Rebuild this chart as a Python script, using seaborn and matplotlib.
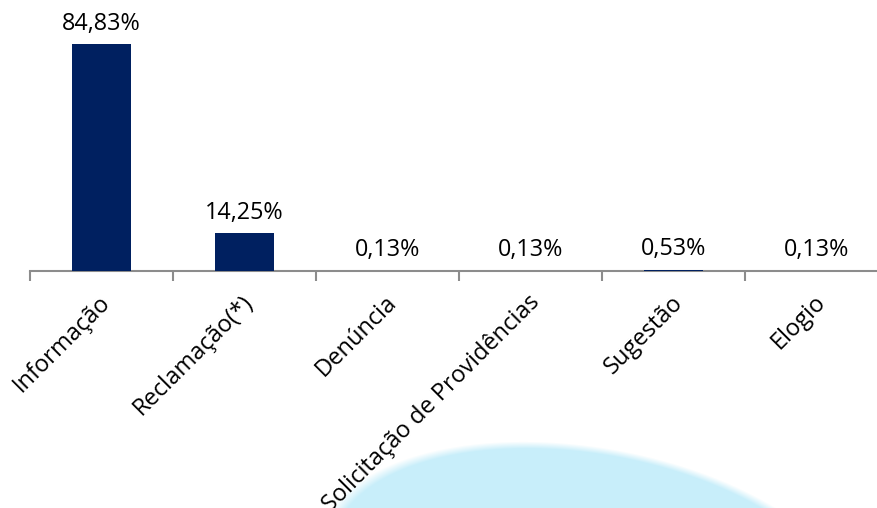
import matplotlib
matplotlib.use("Agg")
import matplotlib.pyplot as plt
import matplotlib.transforms as mtransforms
import numpy as np
import pandas as pd
import seaborn as sns

# Manifestações por tipo (%)
categorias = ["Informação", "Reclamação(*)", "Denúncia",
              "Solicitação de Providências", "Sugestão", "Elogio"]
percentuais = [84.83, 14.25, 0.13, 0.13, 0.53, 0.13]

sns.set_theme(style="white")
plt.rcParams["font.family"] = ["Open Sans", "DejaVu Sans"]

W, H = 878, 508
fig = plt.figure(figsize=(W / 100, H / 100), dpi=100)
fig.patch.set_facecolor("white")

# soft light-blue glow in the lower part of the page
bg = fig.add_axes([0, 0, 1, 1], zorder=0)
bg.axis("off")
yy, xx = np.mgrid[0:H, 0:W].astype(float)
cx, cy, a, b, th = 590.0, 585.0, 275.0, 138.0, np.deg2rad(10)
u = (xx - cx) * np.cos(th) + (yy - cy) * np.sin(th)
v = -(xx - cx) * np.sin(th) + (yy - cy) * np.cos(th)
r = np.sqrt((u / a) ** 2 + (v / b) ** 2)
alpha = np.clip((1 - r) / 0.05, 0, 1)
img = np.ones((H, W, 4))
img[..., 0] = 0xC8 / 255
img[..., 1] = 0xEE / 255
img[..., 2] = 0xFA / 255
img[..., 3] = alpha
bg.imshow(img, extent=[0, W, H, 0], aspect="auto", interpolation="bilinear")
bg.set_xlim(0, W)
bg.set_ylim(H, 0)

ax = fig.add_axes([30 / W, 237 / H, 858 / W, 267.6 / H], zorder=1)
ax.patch.set_alpha(0)

df = pd.DataFrame({"categoria": categorias, "percentual": percentuais})
sns.barplot(data=df, x="categoria", y="percentual", color="#002060",
            saturation=1, width=0.41, ax=ax, zorder=3, linewidth=0)

for i, val in enumerate(percentuais):
    rotulo = f"{val:.2f}".replace(".", ",") + "%"
    ax.annotate(rotulo, (i, val), xytext=(0, 6), textcoords="offset points",
                ha="center", va="bottom", fontsize=16.8, color="black")

ax.set_xlim(-0.5, len(categorias) - 0.5)
ax.set_ylim(0, 100)
ax.set_xlabel("")
ax.set_ylabel("")
ax.set_yticks([])
for s in ["top", "right", "left"]:
    ax.spines[s].set_visible(False)
ax.spines["bottom"].set_color("#8c8c8c")
ax.spines["bottom"].set_linewidth(1.5)

ax.set_xticks(np.arange(-0.5, len(categorias) + 0.5, 1.0), minor=True)
ax.tick_params(axis="x", which="minor", length=7, width=1.5, color="#8c8c8c",
               direction="out", bottom=True)
ax.tick_params(axis="x", which="major", length=0, pad=14)
offset = mtransforms.ScaledTranslation(-3 / 100, 0, fig.dpi_scale_trans)
for lab in ax.get_xticklabels():
    lab.set_rotation(45)
    lab.set_ha("right")
    lab.set_va("top")
    lab.set_rotation_mode("anchor")
    lab.set_fontsize(17)
    lab.set_color("black")
    lab.set_transform(lab.get_transform() + offset)

fig.savefig("out.png", dpi=100)
